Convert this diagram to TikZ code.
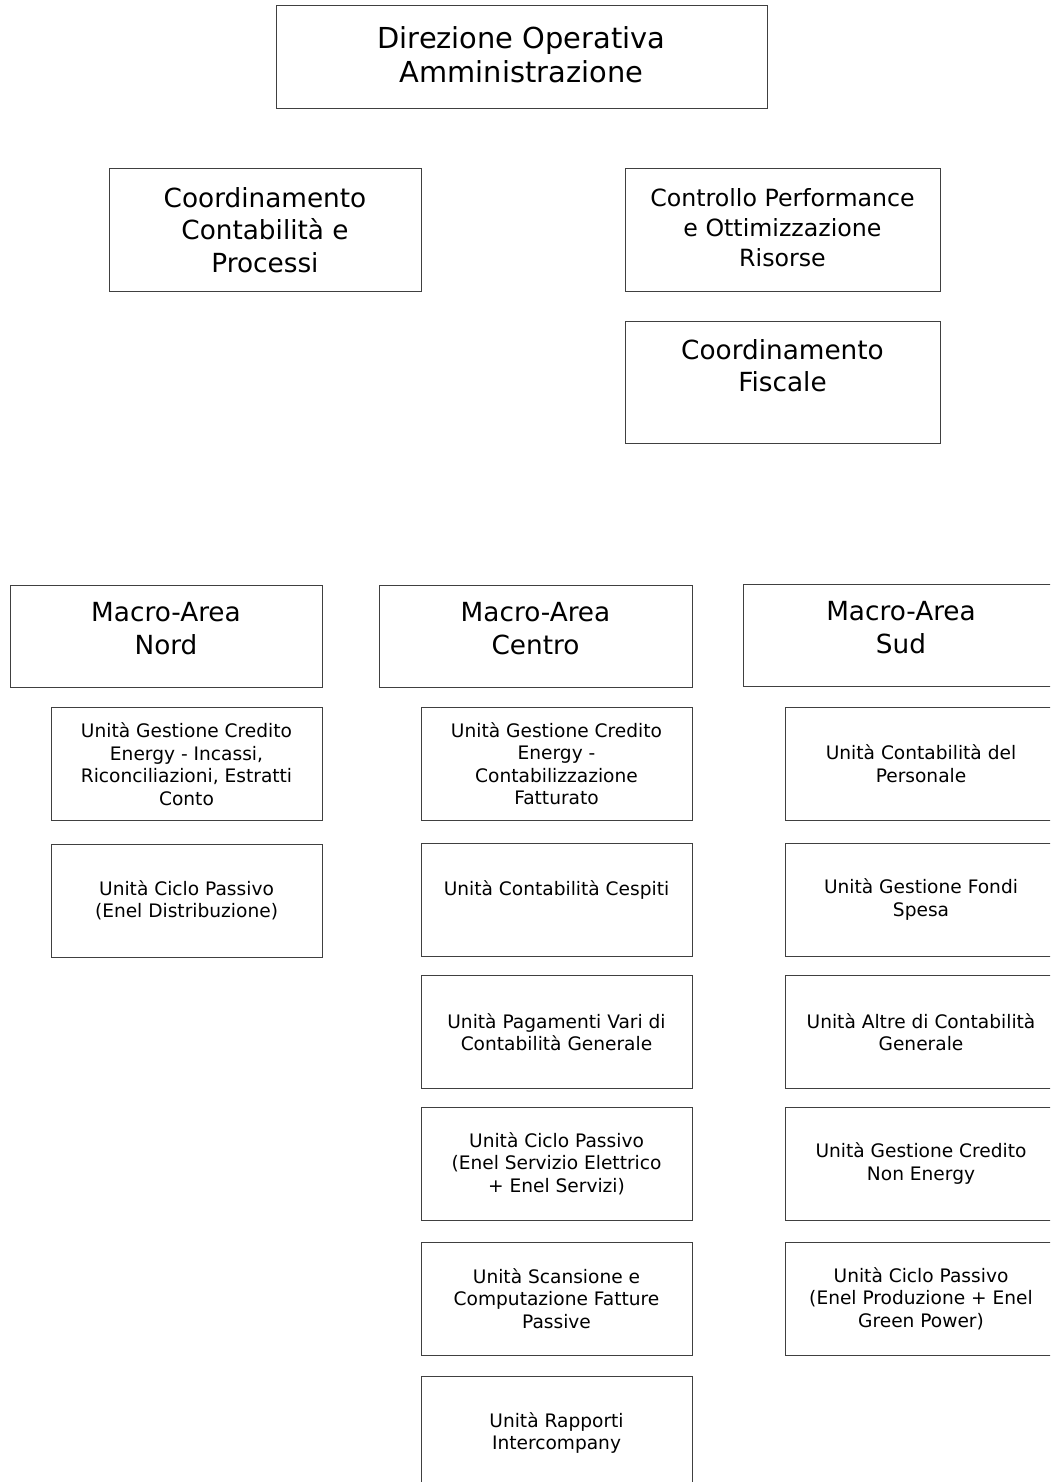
\documentclass[tikz,border=0pt]{standalone}
\usepackage{fontspec}
\setmainfont{DejaVu Sans}
\tikzset{
  box/.style={draw=black!75, line width=1pt, rectangle, inner sep=0pt, align=center, text=black},
  bigA/.style={box, font=\fontsize{28.9}{34}\selectfont},
  bigB/.style={box, font=\fontsize{26.3}{32.5}\selectfont},
  bigC/.style={box, font=\fontsize{23.7}{30}\selectfont},
  small/.style={box, font=\fontsize{18.6}{22.5}\selectfont, minimum width=271pt, minimum height=113pt},
}
\begin{document}
\begin{tikzpicture}[x=1pt, y=-1pt]
\useasboundingbox[fill=white] (0,0) rectangle (1050,1482);
\clip (0,0) rectangle (1050,1482);

% top levels
\node[bigA, minimum width=491pt, minimum height=103pt] (dir) at (521.5,57.5) {Direzione Operativa\\Amministrazione\\[-28pt]\mbox{}};
\node[bigB, minimum width=312pt, minimum height=122pt] (ccp) at (265,230) {Coordinamento\\Contabilità e\\Processi};
\node[bigC, minimum width=315pt, minimum height=122pt] (cpo) at (782.5,230) {Controllo Performance\\e Ottimizzazione\\Risorse\\[-24pt]\mbox{}};
\node[bigB, minimum width=315pt, minimum height=122pt] (cfi) at (782.5,382) {Coordinamento\\Fiscale\\\mbox{}};

% macro areas
\node[bigB, minimum width=312pt, minimum height=102pt] (nord) at (166,636) {Macro-Area\\Nord\\[-17.5pt]\mbox{}};
\node[bigB, minimum width=313pt, minimum height=102pt] (centro) at (535.5,636) {Macro-Area\\Centro\\[-17.5pt]\mbox{}};
\node[bigB, minimum width=316pt, minimum height=102pt] (sud) at (901,635) {Macro-Area\\Sud\\[-17.5pt]\mbox{}};

% Nord units
\node[small] (n1) at (186.5,764) {Unità Gestione Credito\\Energy - Incassi,\\Riconciliazioni, Estratti\\Conto};
\node[small] (n2) at (186.5,900.5) {Unità Ciclo Passivo\\(Enel Distribuzione)};

% Centro units
\node[small] (c1) at (556.5,763.5) {Unità Gestione Credito\\Energy -\\Contabilizzazione\\Fatturato};
\node[small] (c2) at (556.5,899.5) {Unità Contabilità Cespiti\\\mbox{}};
\node[small] (c3) at (556.5,1032) {Unità Pagamenti Vari di\\Contabilità Generale};
\node[small] (c4) at (556.5,1163.5) {Unità Ciclo Passivo\\(Enel Servizio Elettrico\\+ Enel Servizi)};
\node[small] (c5) at (556.5,1298.5) {Unità Scansione e\\Computazione Fatture\\Passive};
\node[small] (c6) at (556.5,1433) {Unità Rapporti\\Intercompany};

% Sud units
\node[small, minimum width=272pt] (s1) at (921,763.5) {Unità Contabilità del\\Personale};
\node[small, minimum width=272pt] (s2) at (921,899.5) {Unità Gestione Fondi\\Spesa};
\node[small, minimum width=272pt] (s3) at (921,1032) {Unità Altre di Contabilità\\Generale};
\node[small, minimum width=272pt] (s4) at (921,1163.5) {Unità Gestione Credito\\Non Energy};
\node[small, minimum width=272pt] (s5) at (921,1298.5) {Unità Ciclo Passivo\\(Enel Produzione + Enel\\Green Power)};
\end{tikzpicture}
\end{document}
